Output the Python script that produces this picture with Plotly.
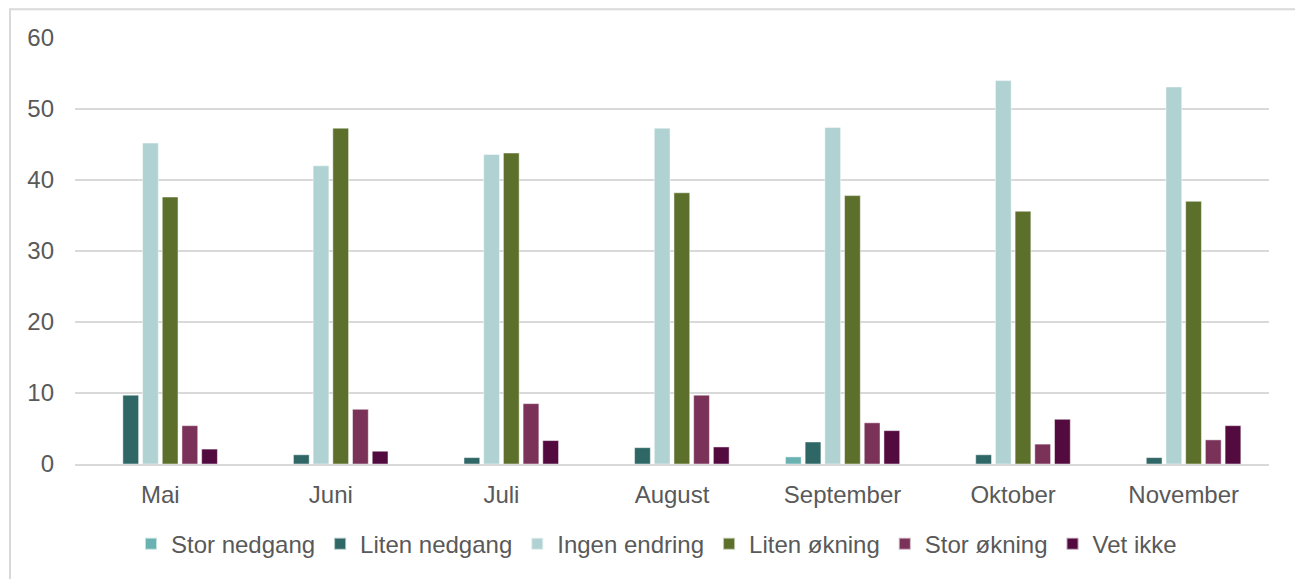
import plotly.graph_objects as go

months = ["Mai", "Juni", "Juli", "August", "September", "Oktober", "November"]
series_names = ["Stor nedgang", "Liten nedgang", "Ingen endring", "Liten økning", "Stor økning", "Vet ikke"]
stor_nedgang = [0, 0, 0, 0, 1.0, 0, 0]
liten_nedgang = [9.7, 1.3, 0.9, 2.3, 3.1, 1.3, 0.9]
ingen_endring = [45.2, 42.0, 43.6, 47.3, 47.4, 54.0, 53.1]
liten_okning = [37.6, 47.3, 43.8, 38.2, 37.8, 35.6, 37.0]
stor_okning = [5.4, 7.7, 8.5, 9.7, 5.8, 2.8, 3.4]
vet_ikke = [2.1, 1.8, 3.3, 2.4, 4.7, 6.3, 5.4]
y_ticks = [0, 10, 20, 30, 40, 50, 60]

values = [stor_nedgang, liten_nedgang, ingen_endring, liten_okning, stor_okning, vet_ikke]
colors = ["#6AB2B2", "#2F6666", "#B0D2D3", "#5C702B", "#7A3258", "#520A3F"]

fig = go.Figure()
for name, vals, col in zip(series_names, values, colors):
    fig.add_trace(go.Bar(
        name=name, x=months, y=vals,
        marker=dict(color=col, line=dict(color="rgba(255,255,255,0.6)", width=0.8)),
    ))

OFF = 8  # page body margin
W, H = 1303 - OFF, 579 - OFF
L, R, T, B = 75 - OFF, 1303 - 1269, 38 - OFF, 579 - 469
ph = H - T - B
pw = W - L - R

font = dict(family="Liberation Sans, Arial, sans-serif", size=24, color="#595959")

fig.update_layout(
    width=W, height=H,
    margin=dict(l=L, r=R, t=T, b=B, pad=0),
    paper_bgcolor="white", plot_bgcolor="white",
    barmode="group", bargap=0.307, bargroupgap=0.2,
    font=font,
    showlegend=True,
    legend=dict(orientation="h", x=0.487, xanchor="center",
                y=(469 - 550) / ph, yanchor="middle",
                font=font, itemsizing="constant", traceorder="normal",
                bgcolor="rgba(0,0,0,0)"),
    xaxis=dict(showgrid=False, showline=True, linecolor="#D9D9D9", linewidth=2,
               ticks="", tickfont=font, ticklabelstandoff=8, fixedrange=True),
    yaxis=dict(range=[0, 60], tickvals=y_ticks, showgrid=True, gridcolor="#D9D9D9",
               gridwidth=1.5, zeroline=False, showline=False, ticks="",
               tickfont=font, ticklabelstandoff=20, fixedrange=True),
    shapes=[dict(type="rect", xref="paper", yref="paper",
                 x0=(10 - 75) / pw, x1=(1297 - 75) / pw,
                 y0=(469 - 620) / ph, y1=(469 - 9) / ph,
                 line=dict(color="#D9D9D9", width=2), fillcolor="rgba(0,0,0,0)",
                 layer="below")],
)

fig.write_html("out.html", config={"displayModeBar": False})
